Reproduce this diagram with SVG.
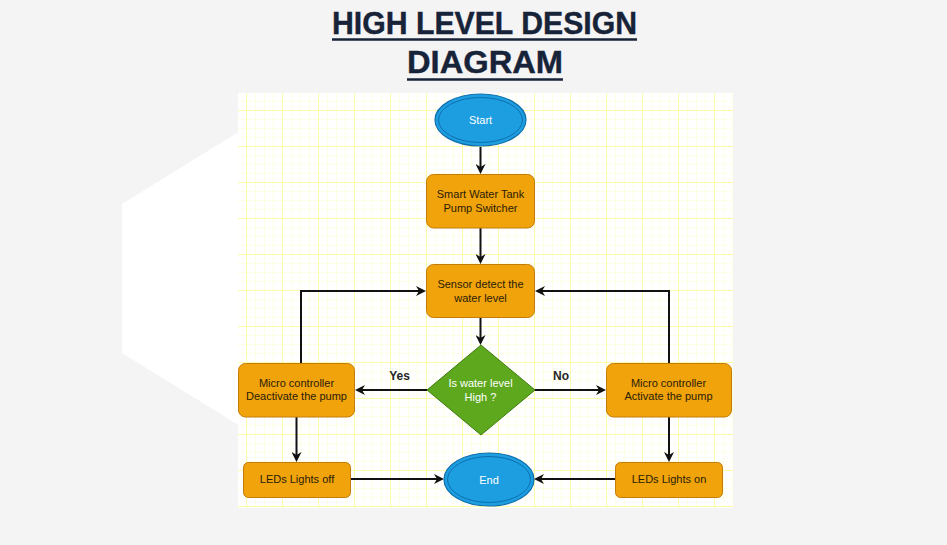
<svg xmlns="http://www.w3.org/2000/svg" width="947" height="545" viewBox="0 0 947 545">
  <defs>
    <style>
      .title { font-family: "Liberation Sans", Arial, sans-serif; font-weight: bold; font-size: 31px; fill: #172338; stroke: #172338; stroke-width: 0.4; text-anchor: middle; }
      .ul { stroke: #172338; stroke-width: 2.5; }
      .proc { fill: #f0a30a; stroke: #c27c0a; stroke-width: 1; }
      .term { fill: #1c9ee0; stroke: #0e6fae; stroke-width: 1.2; }
      .termin { fill: none; stroke: #0e6fae; stroke-width: 1; }
      .dec { fill: #5ea81e; stroke: #3f7a12; stroke-width: 1; }
      .t { font-family: "Liberation Sans", Arial, sans-serif; font-size: 11px; fill: #2a2008; text-anchor: middle; }
      .tw { font-family: "Liberation Sans", Arial, sans-serif; font-size: 11px; fill: #ffffff; text-anchor: middle; }
      .lbl { font-family: "Liberation Sans", Arial, sans-serif; font-size: 12px; font-weight: bold; fill: #262626; text-anchor: middle; }
      .edge { fill: none; stroke: #111111; stroke-width: 2; }
    </style>
    <pattern id="grid" patternUnits="userSpaceOnUse" x="246" y="110" width="36" height="36">
      <rect x="0" y="0" width="36" height="36" fill="#ffffff"/>
      <g stroke="#fefee4" stroke-width="1">
        <line x1="9.5" y1="0" x2="9.5" y2="36"/>
        <line x1="18.5" y1="0" x2="18.5" y2="36"/>
        <line x1="27.5" y1="0" x2="27.5" y2="36"/>
        <line x1="0" y1="9.5" x2="36" y2="9.5"/>
        <line x1="0" y1="18.5" x2="36" y2="18.5"/>
        <line x1="0" y1="27.5" x2="36" y2="27.5"/>
      </g>
      <g stroke="#fcfbaa" stroke-width="1">
        <line x1="0.5" y1="0" x2="0.5" y2="36"/>
        <line x1="0" y1="0.5" x2="36" y2="0.5"/>
      </g>
    </pattern>
    <marker id="arr" viewBox="0 0 10 10" refX="7" refY="5" markerWidth="10" markerHeight="10" markerUnits="userSpaceOnUse" orient="auto">
      <path d="M0,0 L10,5 L0,10 L3,5 z" fill="#111111"/>
    </marker>
  </defs>

  <!-- background -->
  <rect x="0" y="0" width="947" height="545" fill="#f5f4f4"/>
  <polygon points="122,204 240,131 240,426 122,353" fill="#ffffff"/>
  <rect x="238" y="93" width="495" height="415" fill="url(#grid)"/>

  <!-- title -->
  <g id="title">
    <text class="title" x="484.5" y="34" textLength="305" lengthAdjust="spacingAndGlyphs">HIGH LEVEL DESIGN</text>
    <line class="ul" x1="332" y1="39.5" x2="637" y2="39.5"/>
    <text class="title" x="485" y="73" textLength="156" lengthAdjust="spacingAndGlyphs">DIAGRAM</text>
    <line class="ul" x1="407" y1="79.5" x2="563" y2="79.5"/>
  </g>

  <!-- connectors -->
  <g id="connectors">
    <line class="edge" x1="480.5" y1="147" x2="480.5" y2="171" marker-end="url(#arr)"/>
    <line class="edge" x1="480.5" y1="228" x2="480.5" y2="261" marker-end="url(#arr)"/>
    <line class="edge" x1="480.5" y1="318" x2="480.5" y2="342" marker-end="url(#arr)"/>
    <line class="edge" x1="427" y1="390" x2="358" y2="390" marker-end="url(#arr)"/>
    <line class="edge" x1="535" y1="390" x2="603" y2="390" marker-end="url(#arr)"/>
    <polyline class="edge" points="301,363 301,291 423,291" marker-end="url(#arr)"/>
    <polyline class="edge" points="669,363 669,291 538,291" marker-end="url(#arr)"/>
    <line class="edge" x1="296.5" y1="417" x2="296.5" y2="459" marker-end="url(#arr)"/>
    <line class="edge" x1="669" y1="417" x2="669" y2="459" marker-end="url(#arr)"/>
    <line class="edge" x1="351" y1="479" x2="441" y2="479" marker-end="url(#arr)"/>
    <line class="edge" x1="615" y1="479" x2="537" y2="479" marker-end="url(#arr)"/>
    <text class="lbl" x="399.5" y="380">Yes</text>
    <text class="lbl" x="561" y="380">No</text>
  </g>

  <!-- nodes -->
  <g id="start">
    <ellipse class="term" cx="480.5" cy="120" rx="45.5" ry="26"/>
    <ellipse class="termin" cx="480.5" cy="120" rx="42" ry="22.5"/>
    <text class="tw" x="480.5" y="124">Start</text>
  </g>
  <g id="switcher">
    <rect class="proc" x="426.5" y="174.5" width="108" height="53.5" rx="7"/>
    <text class="t" x="480.5" y="198">Smart Water Tank</text>
    <text class="t" x="480.5" y="212">Pump Switcher</text>
  </g>
  <g id="sensor">
    <rect class="proc" x="426.5" y="264.5" width="108" height="53" rx="7"/>
    <text class="t" x="480.5" y="288">Sensor detect the</text>
    <text class="t" x="480.5" y="302">water level</text>
  </g>
  <g id="decision">
    <polygon class="dec" points="481,345 535,390 481,435 427,390"/>
    <text class="tw" x="480.5" y="387">Is water level</text>
    <text class="tw" x="480.5" y="401">High ?</text>
  </g>
  <g id="mc-deactivate">
    <rect class="proc" x="238.5" y="363.5" width="116" height="53.5" rx="7"/>
    <text class="t" x="296.5" y="387">Micro controller</text>
    <text class="t" x="296.5" y="400">Deactivate the pump</text>
  </g>
  <g id="mc-activate">
    <rect class="proc" x="606.5" y="363.5" width="125" height="53.5" rx="7"/>
    <text class="t" x="668.5" y="387">Micro controller</text>
    <text class="t" x="668.5" y="400">Activate the pump</text>
  </g>
  <g id="leds-off">
    <rect class="proc" x="243.5" y="462.5" width="107" height="35" rx="5"/>
    <text class="t" x="297" y="483">LEDs Lights off</text>
  </g>
  <g id="leds-on">
    <rect class="proc" x="615.5" y="462.5" width="107" height="35" rx="5"/>
    <text class="t" x="669" y="483">LEDs Lights on</text>
  </g>
  <g id="end">
    <ellipse class="term" cx="489" cy="479.5" rx="45" ry="26.5"/>
    <ellipse class="termin" cx="489" cy="479.5" rx="41.5" ry="23"/>
    <text class="tw" x="489" y="483.5">End</text>
  </g>
</svg>
